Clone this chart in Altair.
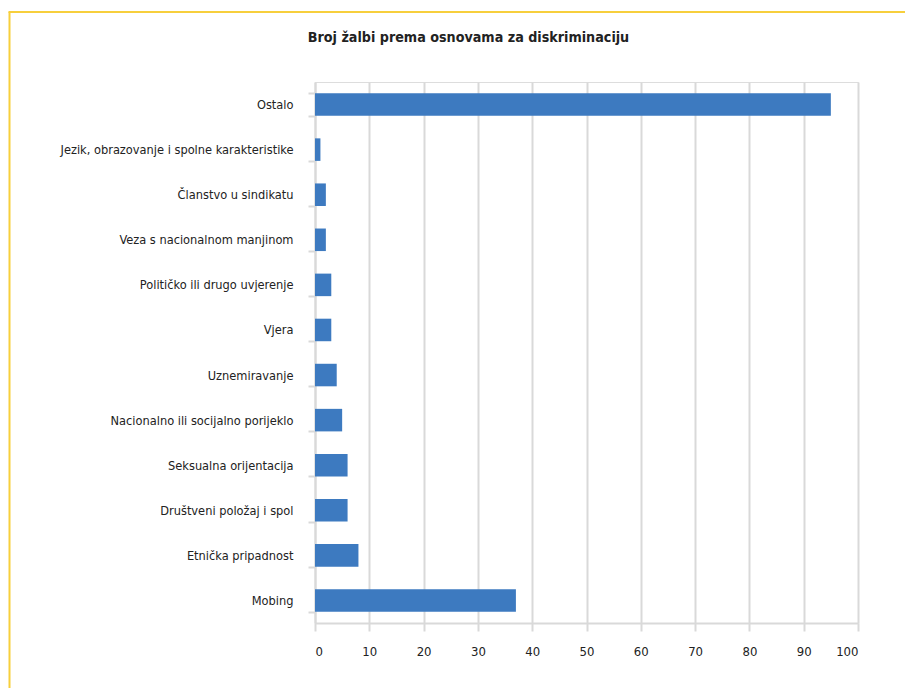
import altair as alt
import pandas as pd

categories = [
    "Ostalo",
    "Jezik, obrazovanje i spolne karakteristike",
    "Članstvo u sindikatu",
    "Veza s nacionalnom manjinom",
    "Političko ili drugo uvjerenje",
    "Vjera",
    "Uznemiravanje",
    "Nacionalno ili socijalno porijeklo",
    "Seksualna orijentacija",
    "Društveni položaj i spol",
    "Etnička pripadnost",
    "Mobing",
]
values = [95, 1, 2, 2, 3, 3, 4, 5, 6, 6, 8, 37]

df = pd.DataFrame({"kategorija": categories, "broj": values})

FONT = "DejaVu Sans Condensed, sans-serif"
GRID = "#d9d9d9"
W, H = 543, 541
PL, PT, PR, PB = 307, 74, 47, 65

bars = alt.Chart(df).mark_bar(color="#3d7ac0").encode(
    x=alt.X(
        "broj:Q",
        scale=alt.Scale(domain=[0, 100], nice=False),
        axis=alt.Axis(
            values=list(range(0, 101, 10)),
            title=None,
            grid=True,
            gridColor=GRID,
            gridWidth=2,
            domainColor=GRID,
            domainWidth=2,
            tickColor=GRID,
            tickWidth=2,
            tickSize=8,
            labelPadding=14,
            labelFontSize=13,
            labelColor="#222222",
            labelFont=FONT,
        ),
    ),
    y=alt.Y(
        "kategorija:N",
        sort=categories,
        scale=alt.Scale(paddingInner=0.5, paddingOuter=0.25),
        axis=alt.Axis(
            title=None,
            grid=False,
            tickBand="extent",
            domainColor=GRID,
            domainWidth=2,
            tickColor=GRID,
            tickWidth=2,
            tickSize=7,
            labelPadding=15,
            labelFontSize=12.7,
            labelColor="#222222",
            labelFont=FONT,
            labelLimit=400,
        ),
    ),
)

frame_df = pd.DataFrame({"k": [0]})
left_border = alt.Chart(frame_df).mark_rule(color="#f7cf3c", strokeWidth=2).encode(
    x=alt.value(-305.5), y=alt.value(-70), y2=alt.value(H + PB)
)
top_border = alt.Chart(frame_df).mark_rule(color="#f7cf3c", strokeWidth=2).encode(
    x=alt.value(-306.5), x2=alt.value(W + PR), y=alt.value(-70)
)

chart = (
    alt.layer(left_border, top_border, bars)
    .properties(
        width=W,
        height=H,
        padding={"left": PL, "top": PT, "right": PR, "bottom": PB},
        autosize=alt.AutoSizeParams(type="none"),
        title=alt.TitleParams(
            "Broj žalbi prema osnovama za diskriminaciju",
            font=FONT,
            fontSize=14.2,
            fontWeight="bold",
            color="#222222",
            anchor="middle",
            dx=-118,
            offset=-34,
        ),
    )
    .configure_view(stroke=None)
    .configure(background="white")
)

chart.save("out.html", embed_options={"renderer": "svg", "actions": False})
